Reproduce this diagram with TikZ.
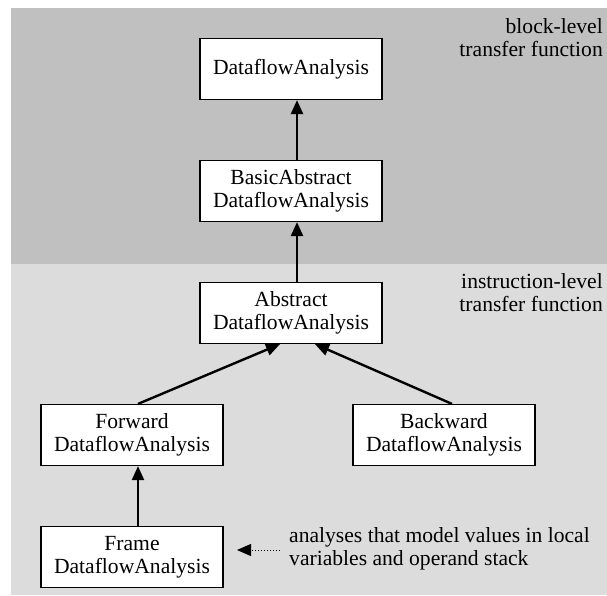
\documentclass[tikz,border=0pt]{standalone}
\usepackage{fontspec}
\setmainfont{Liberation Serif}
\usetikzlibrary{positioning,arrows.meta}

\definecolor{blockgray}{RGB}{192,192,192}
\definecolor{instrgray}{RGB}{220,220,220}

\begin{document}
\begin{tikzpicture}[x=1pt,y=-1pt,node distance=122pt,on grid,
  font=\fontsize{21.6}{23}\selectfont,
  cls/.style={draw,line width=1.2pt,fill=white,minimum width=182pt,minimum height=61pt,align=center,inner sep=0pt},
  inherit/.style={line width=2.4pt,-{Triangle[length=14pt,width=12pt]}},
  note/.style={inner sep=0pt}]
\useasboundingbox (0,0) rectangle (607,595);
\fill[blockgray] (11,8) rectangle (607,264);
\fill[instrgray] (11,264) rectangle (607,595);

\node[cls] (dfa) at (291,69) {DataflowAnalysis};
\node[cls] (basic) [below=of dfa] {BasicAbstract\\DataflowAnalysis};
\node[cls] (abstract) [below=of basic] {Abstract\\DataflowAnalysis};
\node[cls] (forward) [below left=122pt and 159pt of abstract] {Forward\\DataflowAnalysis};
\node[cls] (backward) [below right=122pt and 153pt of abstract] {Backward\\DataflowAnalysis};
\node[cls] (frame) [below=of forward] {Frame\\DataflowAnalysis};

\node[note,align=right,anchor=north east] (blocklbl) at (603,18) {block-level\\transfer function};
\node[note,align=right,anchor=north east] (instrlbl) at (603,273) {instruction-level\\transfer function};
\node[note,align=left,anchor=north west] (remark) at (289,527) {analyses that model values in local\\variables and operand stack};
\coordinate (tip) at (237,550);

\draw[inherit] ([xshift=6pt]basic.north) -- ([xshift=6pt]dfa.south);
\draw[inherit] ([xshift=6pt]abstract.north) -- ([xshift=6pt]basic.south);
\draw[inherit] ([xshift=6pt]forward.north) -- ([xshift=-11pt]abstract.south);
\draw[inherit] ([xshift=8pt]backward.north) -- ([xshift=24pt]abstract.south);
\draw[inherit] ([xshift=6pt]frame.north) -- ([xshift=6pt]forward.south);
\draw[dotted,line width=1pt,shorten <=9pt,-{Triangle[length=14pt,width=12pt]}] (remark.west |- tip) -- (tip);
\end{tikzpicture}
\end{document}
